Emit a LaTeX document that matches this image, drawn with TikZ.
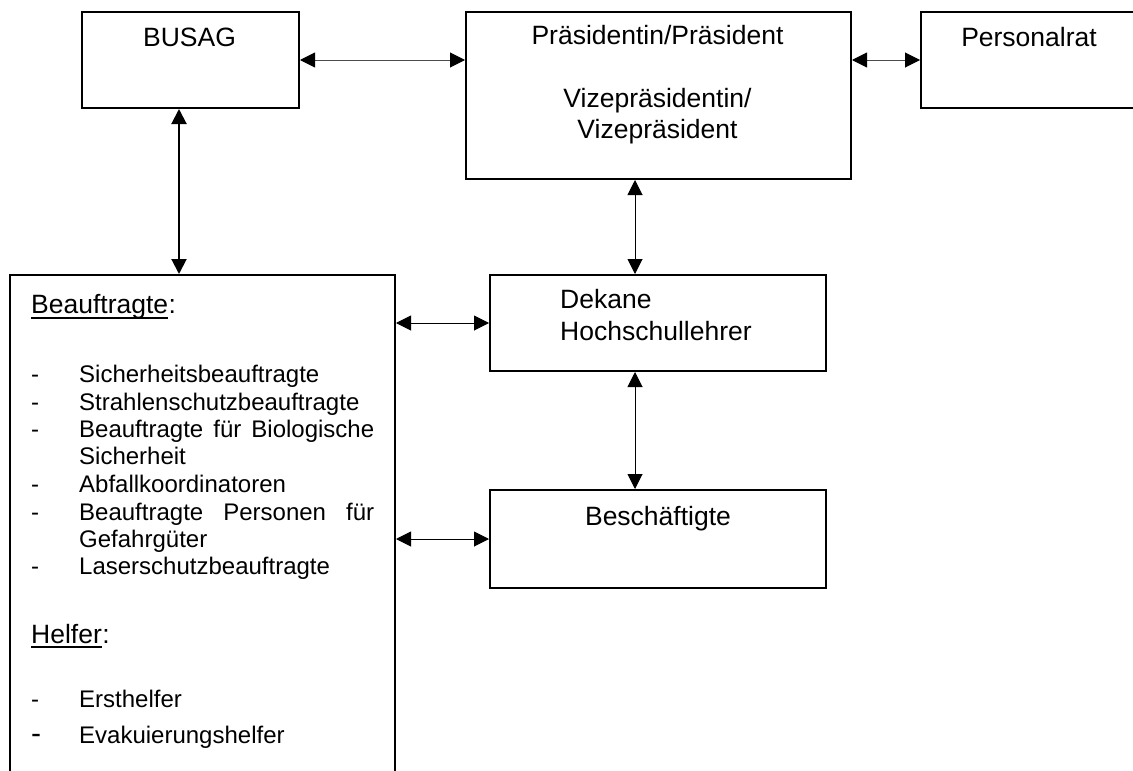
\documentclass[tikz,border=0pt]{standalone}
\usepackage{fontspec}
\setmainfont{Liberation Sans}
\usetikzlibrary{arrows.meta}
\begin{document}
\begin{tikzpicture}[x=1pt,y=-1pt,
  box/.style={draw,line width=2pt,inner sep=0pt,anchor=north west},
  lbl/.style={inner sep=0pt,anchor=base,font=\fontsize{26.5}{30}\selectfont},
  item/.style={inner sep=0pt,anchor=base west,font=\fontsize{24}{27}\selectfont},
  conn/.style={line width=1pt,{Triangle[length=15pt,width=15pt]}-{Triangle[length=15pt,width=15pt]}},
  gconn/.style={draw=black!70,line width=1pt,{Triangle[length=15pt,width=15pt,black]}-{Triangle[length=15pt,width=15pt,black]}},
  uline/.style={line width=2pt}
]
\useasboundingbox (0,0) rectangle (1133,771);
\clip (0,0) rectangle (1133,771);

% boxes
\node[box,minimum width=217pt,minimum height=96pt] (busag) at (81,11) {};
\node[box,minimum width=385pt,minimum height=167pt] (pres) at (465,11) {};
\node[box,minimum width=218pt,minimum height=96pt] (pr) at (920,11) {};
\node[box,minimum width=336pt,minimum height=96pt] (dek) at (489,274) {};
\node[box,minimum width=336pt,minimum height=98pt] (besch) at (489,489) {};
\node[box,minimum width=385pt,minimum height=540pt] (bea) at (9,274) {};

% connectors
\draw[gconn] (busag.east) -- (busag.east -| pres.west);
\draw[gconn] (pr.west -| pres.east) -- (pr.west);
\draw[conn,line width=2pt] ([xshift=-11.5pt]busag.south) -- ([xshift=-11.5pt]busag.south |- bea.north);
\draw[conn] ([xshift=-23.5pt]pres.south) -- ([xshift=-23.5pt]pres.south |- dek.north);
\draw[conn] ([xshift=-23pt]dek.south) -- ([xshift=-23pt]dek.south |- besch.north);
\draw[conn] (dek.west -| bea.east) -- (dek.west);
\draw[conn] (besch.west -| bea.east) -- (besch.west);

% box texts
\node[lbl] (tb) at (189.5,46) {BUSAG};
\node[lbl] (tp1) at (657.5,44) {Präsidentin/Präsident};
\node[lbl] (tp2) at (657.5,107) {Vizepräsidentin/};
\node[lbl] (tp3) at (657.5,138) {Vizepräsident};
\node[lbl] (tpr) at (1029,46) {Personalrat};
\node[lbl,anchor=base west] (td1) at (560,308) {Dekane};
\node[lbl,anchor=base west] (td2) at (560,340) {Hochschullehrer};
\node[lbl] (tbs) at (658,525) {Beschäftigte};

% Beauftragte list
\node[lbl,anchor=base west] (h1) at (31,313) {Beauftragte};
\node[lbl,anchor=base west] (h1c) at (h1.base east) {:};
\draw[uline] ([yshift=-5pt]h1.base west) -- ([yshift=-5pt]h1.base east);

\node[item] (d1) at (31,382) {-};
\node[item] (i1) at (79,382) {Sicherheitsbeauftragte};
\node[item] (d2) at (31,410) {-};
\node[item] (i2) at (79,410) {Strahlenschutzbeauftragte};
\node[item] (d3) at (31,437) {-};
\node[item] (i3) at (79,437) {\makebox[295pt][s]{Beauftragte für Biologische}};
\node[item] (i3b) at (79,464) {Sicherheit};
\node[item] (d4) at (31,492) {-};
\node[item] (i4) at (79,492) {Abfallkoordinatoren};
\node[item] (d5) at (31,520) {-};
\node[item] (i5) at (79,520) {\makebox[295pt][s]{Beauftragte Personen für}};
\node[item] (i5b) at (79,547) {Gefahrgüter};
\node[item] (d6) at (31,574) {-};
\node[item] (i6) at (79,574) {Laserschutzbeauftragte};

\node[lbl,anchor=base west] (h2) at (31,643) {Helfer};
\node[lbl,anchor=base west] (h2c) at (h2.base east) {:};
\draw[uline] ([yshift=-4pt]h2.base west) -- ([yshift=-4pt]h2.base east);

\node[item] (d7) at (31,707) {-};
\node[item] (i7) at (79,707) {Ersthelfer};
\node[item,font=\fontsize{30}{30}\selectfont] (d8) at (31,743) {-};
\node[item] (i8) at (79,743) {Evakuierungshelfer};
\end{tikzpicture}
\end{document}
